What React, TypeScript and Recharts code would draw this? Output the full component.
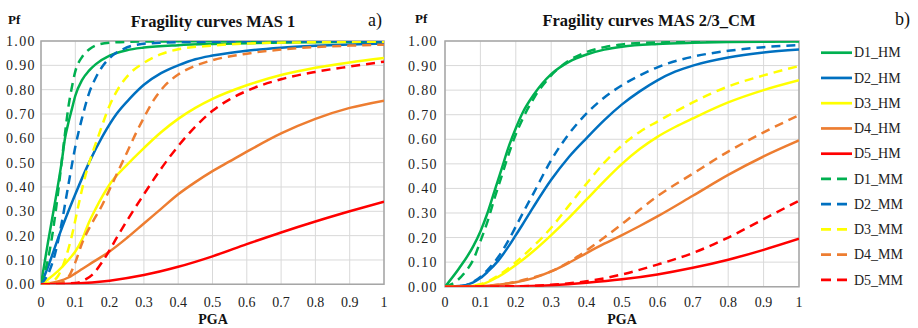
import React from 'react';
import { LineChart, Line, XAxis, YAxis, CartesianGrid, ReferenceArea } from 'recharts';

type Pt = [number, number];

// ---------- Data: MAS 1 (left panel) ----------
const L_D1_HM: Pt[] = [[0,0],[0.02,0.17],[0.04,0.33],[0.06,0.5],[0.07,0.6],[0.08,0.665],[0.09,0.72],[0.1,0.775],[0.12,0.84],[0.14,0.878],[0.16,0.905],[0.2,0.94],[0.25,0.962],[0.3,0.973],[0.4,0.983],[0.5,0.988],[0.6,0.991],[0.8,0.995],[1,0.997]];
const L_D2_HM: Pt[] = [[0,0],[0.02,0.07],[0.05,0.19],[0.1,0.37],[0.14,0.5],[0.18,0.61],[0.22,0.7],[0.26,0.765],[0.3,0.82],[0.35,0.868],[0.4,0.9],[0.45,0.925],[0.5,0.94],[0.6,0.96],[0.7,0.972],[0.8,0.98],[0.9,0.986],[1,0.99]];
const L_D3_HM: Pt[] = [[0,0],[0.02,0.02],[0.05,0.055],[0.08,0.1],[0.1,0.135],[0.12,0.185],[0.14,0.255],[0.16,0.312],[0.18,0.364],[0.2,0.41],[0.25,0.49],[0.3,0.56],[0.35,0.625],[0.4,0.68],[0.45,0.725],[0.5,0.762],[0.6,0.818],[0.7,0.86],[0.8,0.89],[0.9,0.912],[1,0.93]];
const L_D4_HM: Pt[] = [[0,0],[0.05,0.012],[0.08,0.028],[0.1,0.045],[0.12,0.063],[0.15,0.09],[0.2,0.135],[0.25,0.19],[0.3,0.25],[0.35,0.31],[0.4,0.37],[0.45,0.42],[0.5,0.465],[0.55,0.505],[0.6,0.545],[0.7,0.62],[0.8,0.68],[0.9,0.725],[1,0.755]];
const L_D5_HM: Pt[] = [[0,0],[0.1,0.003],[0.2,0.015],[0.3,0.038],[0.4,0.072],[0.5,0.115],[0.6,0.165],[0.7,0.213],[0.8,0.258],[0.9,0.3],[1,0.34]];
const L_D1_MM: Pt[] = [[0,0],[0.02,0.1],[0.04,0.27],[0.05,0.38],[0.06,0.5],[0.07,0.62],[0.08,0.73],[0.09,0.81],[0.1,0.875],[0.12,0.935],[0.14,0.965],[0.16,0.982],[0.2,0.993],[0.3,0.998],[1,1]];
const L_D2_MM: Pt[] = [[0,0],[0.02,0.04],[0.04,0.12],[0.06,0.25],[0.08,0.41],[0.1,0.565],[0.12,0.685],[0.14,0.785],[0.16,0.85],[0.18,0.897],[0.2,0.93],[0.24,0.967],[0.28,0.985],[0.35,0.993],[0.5,0.997],[1,1]];
const L_D3_MM: Pt[] = [[0,0],[0.03,0.01],[0.05,0.035],[0.07,0.1],[0.09,0.2],[0.11,0.33],[0.13,0.45],[0.15,0.54],[0.17,0.62],[0.2,0.735],[0.23,0.815],[0.26,0.868],[0.3,0.91],[0.35,0.946],[0.4,0.966],[0.5,0.981],[0.6,0.99],[0.8,0.995],[1,0.997]];
const L_D4_MM: Pt[] = [[0,0],[0.05,0.003],[0.08,0.03],[0.1,0.09],[0.12,0.17],[0.15,0.255],[0.18,0.33],[0.2,0.39],[0.22,0.45],[0.25,0.54],[0.28,0.63],[0.3,0.685],[0.33,0.76],[0.36,0.815],[0.4,0.862],[0.45,0.898],[0.5,0.921],[0.6,0.948],[0.7,0.965],[0.8,0.975],[0.9,0.981],[1,0.985]];
const L_D5_MM: Pt[] = [[0,0],[0.1,0.005],[0.13,0.02],[0.15,0.04],[0.18,0.095],[0.2,0.14],[0.22,0.19],[0.25,0.26],[0.3,0.37],[0.35,0.475],[0.4,0.568],[0.45,0.648],[0.5,0.713],[0.55,0.76],[0.6,0.795],[0.7,0.843],[0.8,0.873],[0.9,0.895],[1,0.915]];

// ---------- Data: MAS 2/3_CM (right panel) ----------
const R_D1_HM: Pt[] = [[0,0],[0.04,0.075],[0.08,0.165],[0.1,0.225],[0.12,0.3],[0.14,0.39],[0.16,0.48],[0.18,0.57],[0.2,0.645],[0.22,0.71],[0.25,0.78],[0.3,0.865],[0.35,0.915],[0.4,0.945],[0.45,0.965],[0.5,0.977],[0.6,0.988],[0.7,0.993],[0.8,0.996],[1,0.998]];
const R_D2_HM: Pt[] = [[0,0],[0.05,0.004],[0.08,0.018],[0.1,0.035],[0.12,0.06],[0.15,0.105],[0.18,0.165],[0.2,0.21],[0.22,0.255],[0.25,0.325],[0.3,0.435],[0.35,0.528],[0.4,0.605],[0.45,0.678],[0.5,0.742],[0.55,0.795],[0.6,0.84],[0.65,0.875],[0.7,0.9],[0.8,0.933],[0.9,0.953],[1,0.965]];
const R_D3_HM: Pt[] = [[0,0],[0.05,0.001],[0.1,0.008],[0.15,0.04],[0.2,0.088],[0.25,0.145],[0.3,0.21],[0.35,0.28],[0.4,0.355],[0.45,0.43],[0.5,0.5],[0.55,0.56],[0.6,0.61],[0.65,0.65],[0.7,0.685],[0.8,0.75],[0.9,0.8],[1,0.84]];
const R_D4_HM: Pt[] = [[0,0],[0.1,0.002],[0.15,0.008],[0.2,0.018],[0.25,0.035],[0.3,0.062],[0.35,0.097],[0.4,0.137],[0.45,0.175],[0.5,0.21],[0.55,0.247],[0.6,0.286],[0.7,0.37],[0.8,0.455],[0.9,0.53],[1,0.595]];
const R_D5_HM: Pt[] = [[0,0],[0.2,0.001],[0.3,0.006],[0.4,0.016],[0.5,0.03],[0.6,0.05],[0.7,0.077],[0.8,0.11],[0.9,0.15],[1,0.195]];
const R_D1_MM: Pt[] = [[0,0],[0.03,0.02],[0.06,0.065],[0.08,0.11],[0.1,0.185],[0.12,0.265],[0.14,0.36],[0.16,0.45],[0.18,0.54],[0.2,0.62],[0.22,0.685],[0.25,0.765],[0.3,0.86],[0.35,0.92],[0.4,0.955],[0.45,0.975],[0.5,0.986],[0.6,0.994],[0.8,0.998],[1,1]];
const R_D2_MM: Pt[] = [[0,0],[0.05,0.004],[0.08,0.02],[0.1,0.04],[0.12,0.068],[0.15,0.12],[0.18,0.19],[0.2,0.245],[0.22,0.3],[0.25,0.38],[0.3,0.515],[0.35,0.622],[0.4,0.705],[0.45,0.77],[0.5,0.82],[0.55,0.86],[0.6,0.893],[0.7,0.936],[0.8,0.96],[0.9,0.975],[1,0.983]];
const R_D3_MM: Pt[] = [[0,0],[0.05,0.001],[0.1,0.01],[0.15,0.045],[0.2,0.1],[0.25,0.165],[0.3,0.24],[0.35,0.33],[0.4,0.42],[0.45,0.505],[0.5,0.575],[0.55,0.63],[0.6,0.672],[0.65,0.712],[0.7,0.75],[0.8,0.815],[0.9,0.86],[1,0.898]];
const R_D4_MM: Pt[] = [[0,0],[0.1,0.002],[0.15,0.008],[0.2,0.02],[0.25,0.038],[0.3,0.062],[0.35,0.1],[0.4,0.148],[0.45,0.2],[0.5,0.255],[0.55,0.313],[0.6,0.368],[0.7,0.46],[0.8,0.55],[0.9,0.628],[1,0.698]];
const R_D5_MM: Pt[] = [[0,0],[0.2,0.002],[0.3,0.008],[0.4,0.022],[0.5,0.05],[0.6,0.09],[0.7,0.137],[0.8,0.2],[0.9,0.275],[1,0.35]];

const X_TICKS = [0, 0.1, 0.2, 0.3, 0.4, 0.5, 0.6, 0.7, 0.8, 0.9, 1];
const Y_TICKS = [0, 0.1, 0.2, 0.3, 0.4, 0.5, 0.6, 0.7, 0.8, 0.9, 1];

const SERIES_NAMES = ['D1_HM', 'D2_HM', 'D3_HM', 'D4_HM', 'D5_HM', 'D1_MM', 'D2_MM', 'D3_MM', 'D4_MM', 'D5_MM'];
const SERIES_COLORS = ['#00B050', '#0070C0', '#FFFF00', '#ED7D31', '#FF0000', '#00B050', '#0070C0', '#FFFF00', '#ED7D31', '#FF0000'];
const SERIES_DASHED = [false, false, false, false, false, true, true, true, true, true];

const LEFT_SERIES = [L_D1_HM, L_D2_HM, L_D3_HM, L_D4_HM, L_D5_HM, L_D1_MM, L_D2_MM, L_D3_MM, L_D4_MM, L_D5_MM];
const RIGHT_SERIES = [R_D1_HM, R_D2_HM, R_D3_HM, R_D4_HM, R_D5_HM, R_D1_MM, R_D2_MM, R_D3_MM, R_D4_MM, R_D5_MM];

const FONT = "'Liberation Serif', 'DejaVu Serif', 'Times New Roman', Times, serif";

const toData = (pts: Pt[]) => pts.map(([x, y]) => ({ x, y }));
const fmtX = (v: number) => (v === 0 ? '0' : v === 1 ? '1' : v.toFixed(1));
const fmtY = (v: number) => v.toFixed(2);

function Panel(props: {
  series: Pt[][];
  width: number;
  mLeft: number;
  mRight: number;
  mBottom: number;
  yTickSize: number;
  xTickMargin: number;
}) {
  const { series, width, mLeft, mRight, mBottom, yTickSize, xTickMargin } = props;
  return (
    <LineChart width={width} height={328} margin={{ top: 41, right: mRight, bottom: mBottom, left: mLeft }} style={{ fontFamily: FONT }}>
      <CartesianGrid stroke="#d9d9d9" strokeWidth={1} />
      <XAxis
        type="number"
        dataKey="x"
        domain={[0, 1]}
        ticks={X_TICKS}
        interval={0}
        tickFormatter={fmtX}
        axisLine={false}
        tickLine={false}
        tickSize={6}
        tickMargin={xTickMargin}
        height={30}
        allowDataOverflow
        tick={{ fill: '#222', fontSize: 14, style: { fontFamily: FONT } }}
      />
      <YAxis
        type="number"
        domain={[0, 1]}
        ticks={Y_TICKS}
        interval={0}
        tickFormatter={fmtY}
        axisLine={false}
        tickLine={false}
        tickSize={yTickSize}
        tickMargin={2}
        width={41}
        allowDataOverflow
        tick={{ fill: '#222', fontSize: 14, letterSpacing: 1.4, style: { fontFamily: FONT } }}
      />
      <ReferenceArea x1={0} x2={1} y1={0} y2={1} fill="none" fillOpacity={0} stroke="#a6a6a6" strokeWidth={1.5} ifOverflow="visible" />
      {series.map((pts, i) => (
        <Line
          key={SERIES_NAMES[i]}
          name={SERIES_NAMES[i]}
          data={toData(pts)}
          dataKey="y"
          type="monotone"
          stroke={SERIES_COLORS[i]}
          strokeWidth={2.5}
          strokeDasharray={SERIES_DASHED[i] ? '9 6' : undefined}
          dot={false}
          activeDot={false}
          isAnimationActive={false}
        />
      ))}
    </LineChart>
  );
}

export default function App() {
  return (
    <div style={{ position: 'absolute', left: 0, top: 0, width: 918, height: 328, background: '#fff', fontFamily: FONT }}>
      <div style={{ position: 'absolute', left: 0, top: 0 }}>
        <Panel series={LEFT_SERIES} width={400} mLeft={0} mRight={16} mBottom={13.7} yTickSize={3} xTickMargin={7} />
      </div>
      <div style={{ position: 'absolute', left: 400, top: 0 }}>
        <Panel series={RIGHT_SERIES} width={410} mLeft={4} mRight={11} mBottom={11.3} yTickSize={5} xTickMargin={4} />
      </div>
      <svg width={918} height={328} style={{ position: 'absolute', left: 0, top: 0, pointerEvents: 'none', fontFamily: FONT }}>
        <g fill="#111" style={{ fontFamily: FONT }}>
          <text x={8} y={24} fontSize={13} fontWeight="bold">Pf</text>
          <text x={415} y={23} fontSize={13} fontWeight="bold">Pf</text>
          <text x={213} y={27} fontSize={16.5} fontWeight="bold" textAnchor="middle">Fragility curves MAS 1</text>
          <text x={649} y={26} fontSize={16.5} fontWeight="bold" textAnchor="middle">Fragility curves MAS 2/3_CM</text>
          <text x={368} y={26} fontSize={18}>a)</text>
          <text x={895} y={25} fontSize={18}>b)</text>
          <text x={213} y={324} fontSize={14} fontWeight="bold" textAnchor="middle">PGA</text>
          <text x={622} y={324} fontSize={14} fontWeight="bold" textAnchor="middle">PGA</text>
        </g>
        <g style={{ fontFamily: FONT }}>
          {SERIES_NAMES.map((n, i) => {
            const cy = 52.7 + i * 25.25;
            return (
              <g key={n}>
                <line x1={821} x2={852} y1={cy} y2={cy} stroke={SERIES_COLORS[i]} strokeWidth={2.7} strokeDasharray={SERIES_DASHED[i] ? '10 6' : undefined} />
                <text x={854} y={cy + 4.7} fontSize={14} fill="#222">{n}</text>
              </g>
            );
          })}
        </g>
      </svg>
    </div>
  );
}
